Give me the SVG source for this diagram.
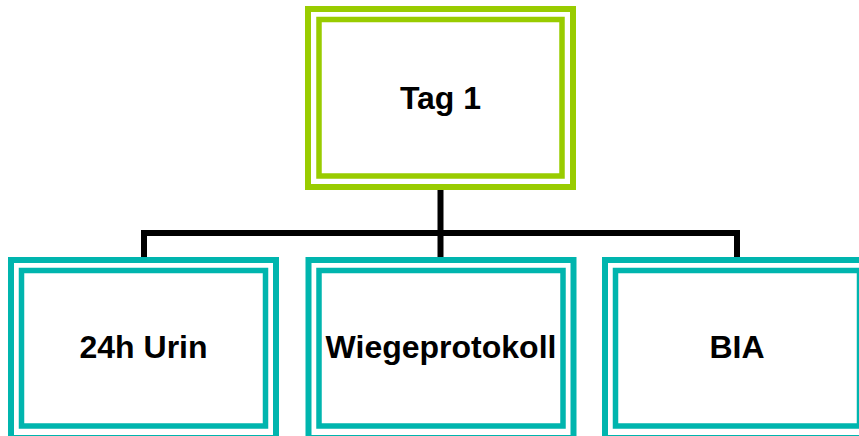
<svg xmlns="http://www.w3.org/2000/svg" width="859" height="436" viewBox="0 0 859 436">
  <style>
    .frame { fill: none; stroke-width: 6; }
    .inner { fill: none; stroke-width: 5.5; }
    .root .frame, .root .inner { stroke: #99CC00; }
    .leaf .frame, .leaf .inner { stroke: #00B5AE; }
    .label { font-family: "Liberation Sans", Arial, sans-serif; font-weight: bold; font-size: 32px; fill: #000; text-anchor: middle; }
    .link { fill: none; stroke: #000; stroke-width: 6; stroke-linejoin: miter; stroke-linecap: butt; }
  </style>
  <rect width="859" height="436" fill="#fff"/>

  <g id="connectors">
    <path class="link" d="M440.5,189 V233"/>
    <path class="link" d="M144,258 V233 H737 V258"/>
    <path class="link" d="M440.5,233 V258"/>
  </g>

  <g id="tag1" class="root">
    <rect class="frame" x="308" y="9" width="265" height="178"/>
    <rect class="inner" x="319" y="19.5" width="243" height="156.5"/>
    <text class="label" x="440.5" y="109">Tag 1</text>
  </g>

  <g id="urin" class="leaf">
    <rect class="frame" x="11" y="260" width="265" height="178"/>
    <rect class="inner" x="21.5" y="270.5" width="244" height="155.5"/>
    <text class="label" x="143.5" y="358">24h Urin</text>
  </g>

  <g id="wiegeprotokoll" class="leaf">
    <rect class="frame" x="308.5" y="260" width="265" height="178"/>
    <rect class="inner" x="319" y="270.5" width="244" height="155.5"/>
    <text class="label" x="441" y="358">Wiegeprotokoll</text>
  </g>

  <g id="bia" class="leaf">
    <rect class="frame" x="605" y="260" width="265" height="178"/>
    <rect class="inner" x="615.5" y="270.5" width="244" height="155.5"/>
    <text class="label" x="737" y="358">BIA</text>
  </g>
</svg>
